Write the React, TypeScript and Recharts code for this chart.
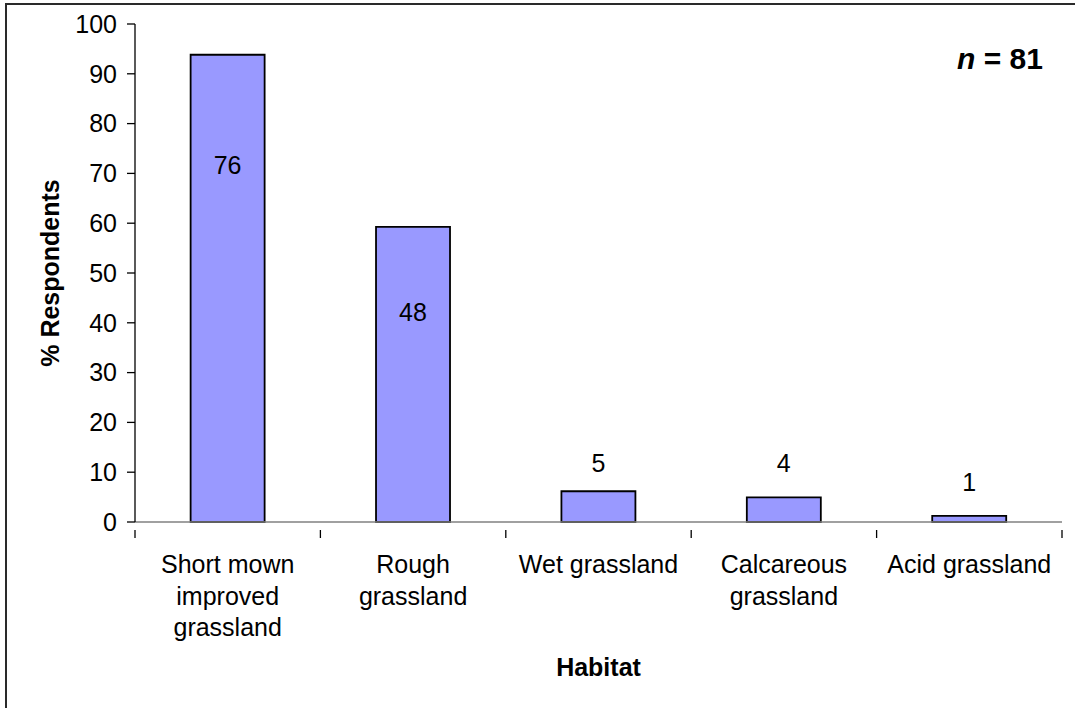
import React from "react";
import { BarChart, Bar, XAxis, YAxis, LabelList } from "recharts";

// habitat categories (line breaks follow the original wrapping)
const habitats = [
  "Short mown\nimproved\ngrassland",
  "Rough\ngrassland",
  "Wet grassland",
  "Calcareous\ngrassland",
  "Acid grassland",
];
const respondents = [76, 48, 5, 4, 1];
const totalN = 81;
const yTicks = [0, 10, 20, 30, 40, 50, 60, 70, 80, 90, 100];

const data = habitats.map((habitat, i) => ({
  habitat,
  count: respondents[i],
  pct: (respondents[i] / totalN) * 100,
}));

const W = 1075;
const H = 708;
const MARGIN = { top: 24, right: 13, left: 0, bottom: 0 };
const Y_AXIS_W = 135;
const X_AXIS_H = 186;
const FONT = "'Liberation Sans', Arial, sans-serif";
const FS = 25;
const BAND_HALF = (W - MARGIN.left - MARGIN.right - Y_AXIS_W) / habitats.length / 2;

// label placement tweaks, relative to bar top (px)
const LABEL_DY = [110, 85, -28, -34, -34];

const CategoryTick = (props: any) => {
  const { x, y, payload, index } = props;
  const lines = String(payload.value).split("\n");
  return (
    <g>
      <line x1={x - BAND_HALF} x2={x - BAND_HALF} y1={y} y2={y + 8} stroke="#000" strokeWidth={1.3} />
      {index === habitats.length - 1 && (
        <line x1={x + BAND_HALF} x2={x + BAND_HALF} y1={y} y2={y + 8} stroke="#000" strokeWidth={1.3} />
      )}
      <text x={x} y={y + 43} textAnchor="middle" fontSize={FS} fontFamily={FONT} fill="#000">
        {lines.map((ln, i) => (
          <tspan key={i} x={x} dy={i === 0 ? 0 : 31.5}>
            {ln}
          </tspan>
        ))}
      </text>
    </g>
  );
};

const CountLabel = (props: any) => {
  const { x, y, width, value, index } = props;
  return (
    <text
      x={x + width / 2}
      y={y + LABEL_DY[index]}
      textAnchor="middle"
      dominantBaseline="central"
      fontSize={FS}
      fontFamily={FONT}
      fill="#000"
    >
      {value}
    </text>
  );
};

export default function App() {
  return (
    <div style={{ position: "absolute", left: 0, top: 0, width: W, height: H, background: "#fff", overflow: "hidden" }}>
      <div
        style={{
          position: "absolute",
          left: 5,
          top: 3,
          width: W,
          height: H,
          borderLeft: "2px solid #2a2a2a",
          borderTop: "2px solid #2a2a2a",
        }}
      />
      <BarChart width={W} height={H} data={data} margin={MARGIN} barCategoryGap="30%">
        <XAxis
          dataKey="habitat"
          height={X_AXIS_H}
          interval={0}
          axisLine={{ stroke: "#808080", strokeWidth: 1.5 }}
          tickLine={false}
          tick={<CategoryTick />}
          label={(p: any) => {
            const vb = p.viewBox;
            return (
              <text
                x={vb.x + vb.width / 2}
                y={vb.y + 154}
                textAnchor="middle"
                fontSize={FS}
                fontWeight="bold"
                fontFamily={FONT}
                fill="#000"
              >
                Habitat
              </text>
            );
          }}
        />
        <YAxis
          width={Y_AXIS_W}
          domain={[0, 100]}
          ticks={yTicks}
          interval={0}
          axisLine={{ stroke: "#000", strokeWidth: 1.3 }}
          tickLine={{ stroke: "#000", strokeWidth: 1.3 }}
          tickSize={8}
          tickMargin={10}
          tick={{ fontSize: FS, fontFamily: FONT, fill: "#000" }}
          label={(p: any) => {
            const vb = p.viewBox;
            const cx = vb.x + 50;
            const cy = vb.y + vb.height / 2;
            return (
              <text
                x={cx}
                y={cy}
                transform={`rotate(-90 ${cx} ${cy})`}
                textAnchor="middle"
                dominantBaseline="central"
                fontSize={FS}
                fontWeight="bold"
                fontFamily={FONT}
                fill="#000"
              >
                % Respondents
              </text>
            );
          }}
        />
        <Bar dataKey="pct" fill="#9999FF" stroke="#000" strokeWidth={1.8} isAnimationActive={false}>
          <LabelList dataKey="count" content={<CountLabel />} />
        </Bar>
      </BarChart>
      <div
        style={{
          position: "absolute",
          left: 957,
          top: 41,
          fontFamily: FONT,
          fontWeight: "bold",
          fontSize: 30,
          lineHeight: "36px",
          color: "#000",
          whiteSpace: "pre",
        }}
      >
        <i>n</i> = 81
      </div>
    </div>
  );
}
